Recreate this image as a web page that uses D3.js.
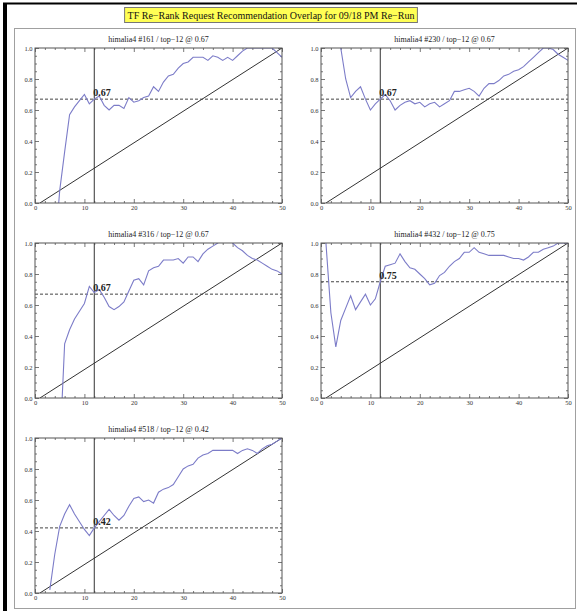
<!DOCTYPE html>
<html>
<head>
<meta charset="utf-8">
<script src="https://cdn.jsdelivr.net/npm/d3@7"></script>
<style>
  body { margin: 0; background: #fff; }
  svg { display: block; }
  text { font-family: "Liberation Serif", "DejaVu Serif", serif; }
</style>
</head>
<body>
<svg id="chart" width="577" height="611"></svg>
<script>
// ---------- data ----------
const mainTitle = "TF Re\u2212Rank Request Recommendation Overlap for 09/18 PM Re\u2212Run";
const panelIds = ["161", "230", "316", "432", "518"];
const topScores = [0.67, 0.67, 0.67, 0.75, 0.42];
const cutoffRank = 12;
const xTicks = [0, 10, 20, 30, 40, 50];
const yTicks = [0, 0.2, 0.4, 0.6, 0.8, 1.0];
const baselineLine = [[1, 0], [50, 1]];   // reference diagonal
// values for rank 1..50 (null = not plotted)
const series161 = [null, null, null, -0.32, 0.08, 0.33, 0.57, 0.62, 0.66, 0.70,
  0.64, 0.67, 0.69, 0.63, 0.60, 0.63, 0.63, 0.61, 0.68, 0.65,
  0.66, 0.68, 0.69, 0.75, 0.72, 0.78, 0.82, 0.83, 0.87, 0.90,
  0.91, 0.94, 0.94, 0.94, 0.92, 0.95, 0.94, 0.92, 0.94, 0.92,
  0.95, 0.98, 1.00, 1.00, 1.00, 1.00, 1.00, 1.00, 0.97, 0.94];
const series230 = [null, null, 1.30, 1.00, 0.80, 0.68, 0.72, 0.75, 0.67, 0.60,
  0.64, 0.67, 0.70, 0.66, 0.60, 0.63, 0.65, 0.66, 0.64, 0.65,
  0.62, 0.64, 0.65, 0.62, 0.64, 0.66, 0.72, 0.72, 0.73, 0.74,
  0.72, 0.69, 0.74, 0.77, 0.77, 0.79, 0.82, 0.83, 0.85, 0.86,
  0.88, 0.91, 0.94, 0.97, 1.00, 1.00, 0.99, 0.96, 0.94, 0.92];
const series316 = [null, null, null, null, -0.35, 0.35, 0.44, 0.51, 0.56, 0.61,
  0.72, 0.68, 0.70, 0.65, 0.59, 0.57, 0.59, 0.62, 0.69, 0.76,
  0.77, 0.73, 0.82, 0.84, 0.85, 0.89, 0.89, 0.89, 0.90, 0.87,
  0.91, 0.91, 0.88, 0.93, 0.96, 0.98, 1.00, 1.03, 1.03, 1.00,
  0.97, 0.95, 0.92, 0.90, 0.89, 0.87, 0.85, 0.83, 0.82, 0.80];
const series432 = [1.00, 0.55, 0.33, 0.50, 0.58, 0.66, 0.57, 0.62, 0.67, 0.60,
  0.64, 0.75, 0.85, 0.86, 0.87, 0.93, 0.88, 0.84, 0.83, 0.80,
  0.77, 0.73, 0.74, 0.79, 0.81, 0.85, 0.88, 0.90, 0.94, 0.94,
  0.97, 0.94, 0.93, 0.92, 0.92, 0.92, 0.92, 0.91, 0.90, 0.90,
  0.89, 0.91, 0.94, 0.94, 0.96, 0.97, 0.98, 1.00, 1.00, 1.00];
const series518 = [null, null, 0.02, 0.25, 0.43, 0.51, 0.57, 0.51, 0.46, 0.41,
  0.37, 0.42, 0.46, 0.50, 0.54, 0.50, 0.47, 0.50, 0.56, 0.61,
  0.62, 0.59, 0.60, 0.58, 0.65, 0.67, 0.68, 0.70, 0.75, 0.80,
  0.82, 0.83, 0.87, 0.89, 0.90, 0.92, 0.92, 0.92, 0.92, 0.92,
  0.90, 0.92, 0.93, 0.92, 0.90, 0.93, 0.95, 0.96, 0.98, 1.00];
const allSeries = [series161, series230, series316, series432, series518];

// ---------- layout ----------
const W = 577, H = 611;
const colLeft = [35, 321];
const rowTop = [48, 243, 438];
const plotW = 247, plotH = 155;

const svg = d3.select("#chart");
svg.append("rect").attr("width", W).attr("height", H).attr("fill", "#fff");

// page decorations
svg.append("rect").attr("x", 3).attr("y", 3).attr("width", 4).attr("height", H - 3).attr("fill", "#000");
svg.append("line").attr("x1", 3).attr("x2", W).attr("y1", 3.5).attr("y2", 3.5)
  .attr("stroke", "#000").attr("stroke-width", 2);
svg.append("rect").attr("x", 14.5).attr("y", 28.5).attr("width", 561).attr("height", 580)
  .attr("fill", "none").attr("stroke", "#a0a0a0").attr("stroke-width", 1);

// main title
const tBox = svg.append("g");
const tText = tBox.append("text").attr("x", 271).attr("y", 18.5)
  .attr("text-anchor", "middle").attr("font-size", 10).attr("fill", "#111").text(mainTitle);
const bb = tText.node().getBBox();
tBox.insert("rect", "text").attr("x", bb.x - 3).attr("y", 7.5).attr("width", bb.width + 6).attr("height", 15)
  .attr("fill", "#ffff55").attr("stroke", "#777").attr("stroke-width", 1);

const majorX = xTicks;
const minorX = d3.range(0, 51, 2).filter(v => v % 10 !== 0);
const minorY = d3.range(0, 21).map(i => i * 0.05).filter(v => Math.abs(v * 5 - Math.round(v * 5)) > 1e-6);

allSeries.forEach((series, i) => {
  const left = colLeft[i % 2];
  const top = rowTop[Math.floor(i / 2)];
  const x = d3.scaleLinear().domain([0, 50]).range([left, left + plotW]);
  const y = d3.scaleLinear().domain([0, 1]).range([top + plotH, top]);
  const g = svg.append("g");

  const clipId = "clip" + i;
  g.append("clipPath").attr("id", clipId).append("rect")
    .attr("x", left).attr("y", top).attr("width", plotW).attr("height", plotH);

  // axes (ticks inward on all four sides)
  const mk = (axisFn, scale, vals, size, fmt, labeled, tr) => {
    const a = axisFn(scale).tickValues(vals).tickSizeInner(-size).tickSizeOuter(0).tickPadding(2.5)
      .tickFormat(labeled ? fmt : () => "");
    const ag = g.append("g").attr("transform", tr).call(a);
    ag.select(".domain").remove();
    ag.selectAll("line").attr("stroke", "#555").attr("stroke-width", 0.8);
    ag.selectAll("text").attr("font-size", 6.5).attr("fill", "#333")
      .attr("font-family", "'Liberation Serif', serif");
    return ag;
  };
  const fx = d3.format("d"), fy = d3.format(".1f");
  mk(d3.axisBottom, x, majorX, 4, fx, true, `translate(0,${top + plotH})`);
  mk(d3.axisBottom, x, minorX, 2, fx, false, `translate(0,${top + plotH})`);
  mk(d3.axisTop, x, majorX, 4, fx, false, `translate(0,${top})`);
  mk(d3.axisTop, x, minorX, 2, fx, false, `translate(0,${top})`);
  mk(d3.axisLeft, y, yTicks, 4, fy, true, `translate(${left},0)`);
  mk(d3.axisLeft, y, minorY, 2, fy, false, `translate(${left},0)`);
  mk(d3.axisRight, y, yTicks, 4, fy, false, `translate(${left + plotW},0)`);
  mk(d3.axisRight, y, minorY, 2, fy, false, `translate(${left + plotW},0)`);

  const pg = g.append("g").attr("clip-path", `url(#${clipId})`);

  // reference diagonal
  pg.append("path").datum(baselineLine)
    .attr("d", d3.line().x(d => x(d[0])).y(d => y(d[1])))
    .attr("fill", "none").attr("stroke", "#333").attr("stroke-width", 1);

  // top-N cutoff line
  pg.append("line").attr("x1", x(cutoffRank)).attr("x2", x(cutoffRank))
    .attr("y1", y(0)).attr("y2", y(1)).attr("stroke", "#333").attr("stroke-width", 1);

  // score dashed line
  pg.append("line").attr("x1", x(0)).attr("x2", x(50))
    .attr("y1", y(topScores[i])).attr("y2", y(topScores[i]))
    .attr("stroke", "#444").attr("stroke-width", 1).attr("stroke-dasharray", "3,2");

  // series curve
  const pts = series.map((v, k) => [k + 1, v]);
  pg.append("path").datum(pts)
    .attr("d", d3.line().defined(d => d[1] !== null).x(d => x(d[0])).y(d => y(d[1])))
    .attr("fill", "none").attr("stroke", "#7c7cc8").attr("stroke-width", 1.1);

  // frame
  g.append("rect").attr("x", left).attr("y", top).attr("width", plotW).attr("height", plotH)
    .attr("fill", "none").attr("stroke", "#555").attr("stroke-width", 1);

  // score label
  g.append("text").attr("x", x(cutoffRank) - 1).attr("y", y(topScores[i]) - 3)
    .attr("font-size", 10).attr("font-weight", "bold").attr("fill", "#222")
    .text(d3.format(".2f")(topScores[i]));

  // panel title
  g.append("text").attr("x", left + plotW / 2).attr("y", top - 6)
    .attr("text-anchor", "middle").attr("font-size", 8).attr("fill", "#222")
    .text(`himalia4 #${panelIds[i]} / top\u221212 @ ${d3.format(".2f")(topScores[i])}`);
});
</script>
</body>
</html>
